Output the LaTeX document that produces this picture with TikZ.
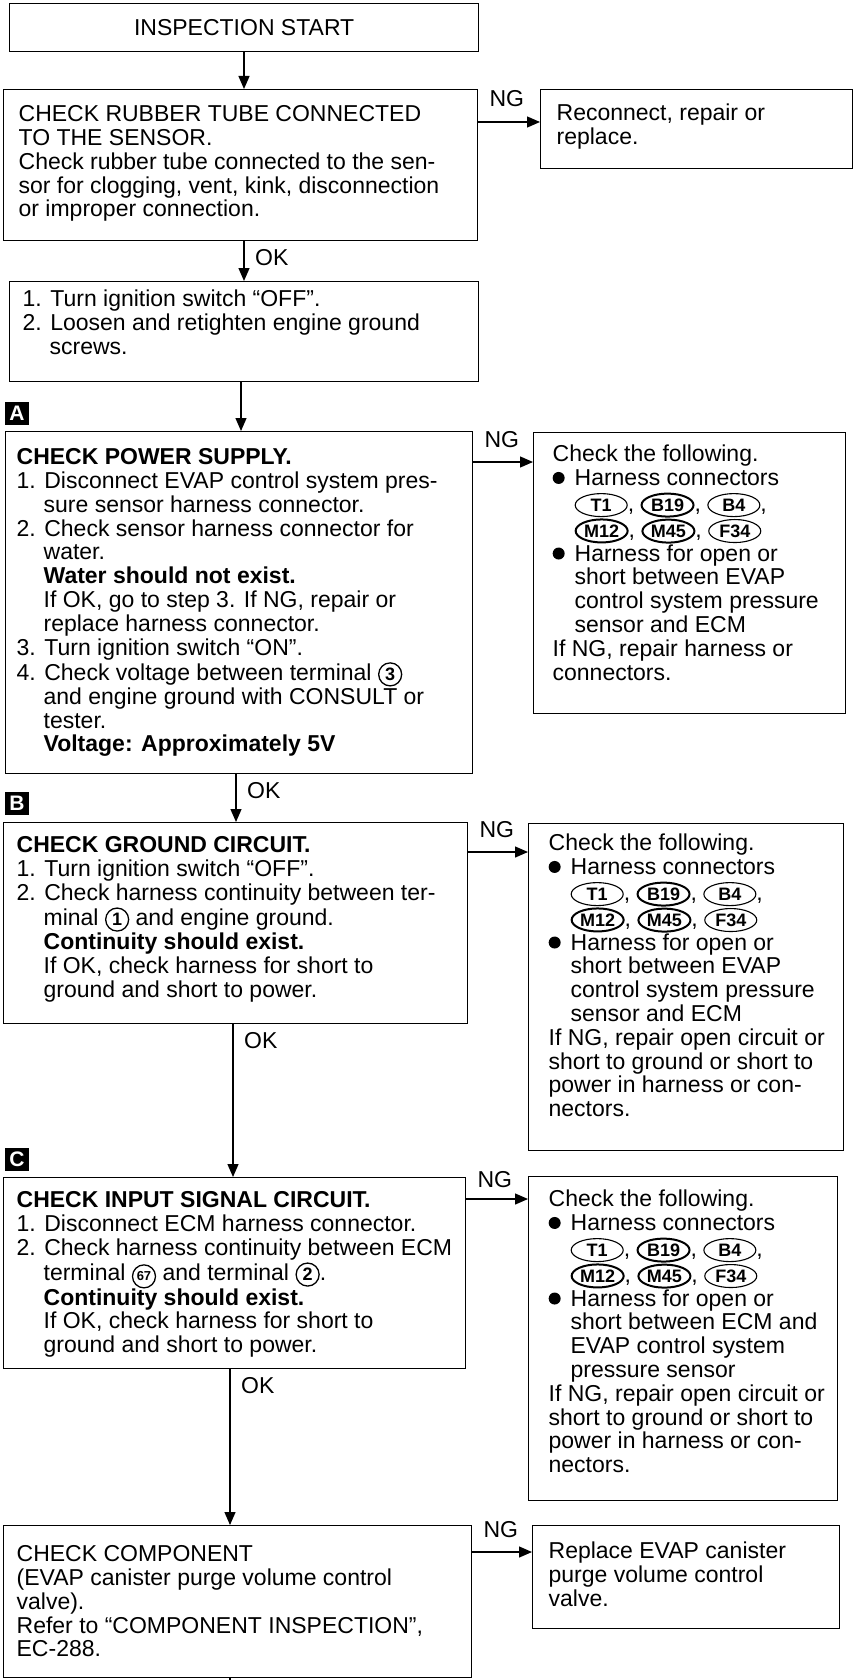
\documentclass[tikz,border=0pt]{standalone}
\usepackage{fontspec}
\setmainfont{Liberation Sans}
\usetikzlibrary{arrows.meta,shapes.geometric}

% W H first-baseline padx lines
\newcommand\boxtxt[5]{\begin{minipage}[c][#2pt][t]{#1pt}\vspace*{\dimexpr#3pt-0.7\baselineskip\relax}\noindent\hspace*{#4pt}\begin{tabular}[t]{@{}l@{}}#5\end{tabular}\end{minipage}}
\newcommand\indt{\hspace*{27pt}}
\newcommand\cindt{\hspace*{22pt}}
\newcommand\circn[1]{\tikz[baseline=(cn.base)]\node[circle,draw,line width=1.3pt,inner sep=0pt,minimum size=23pt,font=\bfseries\fontsize{18}{18}\selectfont](cn){#1};}
\newcommand\circnn[1]{\tikz[baseline=(cn.base)]\node[circle,draw,line width=1.3pt,inner sep=0pt,minimum size=23pt,font=\bfseries\fontsize{13}{13}\selectfont](cn){#1};}
\newcommand\cbox[1]{\tikz[baseline=(cb.base)]\node[ellipse,draw,line width=1.1pt,inner xsep=0pt,inner ysep=0pt,minimum height=23pt,minimum width=52pt,font=\bfseries\fontsize{18}{18}\selectfont](cb){#1};}
\newcommand\cboxb[1]{\tikz[baseline=(cb.base)]\node[ellipse,draw,line width=2pt,inner xsep=0pt,inner ysep=0pt,minimum height=23pt,minimum width=52pt,font=\bfseries\fontsize{18}{18}\selectfont](cb){#1};}
\newcommand\bulit{\tikz[baseline=0pt]\fill (6pt,7.5pt) circle (6pt);\hspace{10pt}}

\begin{document}
\begin{tikzpicture}[x=1pt,y=-1pt,
  bxs/.style={draw,line width=1.3pt,inner sep=0pt,anchor=north west,font=\fontsize{23}{23.8}\selectfont},
  lbl/.style={inner sep=0pt,font=\fontsize{23}{23.8}\selectfont},
  secmark/.style={fill=black,text=white,inner sep=0pt,minimum width=24pt,minimum height=23pt,font=\bfseries\fontsize{21}{21}\selectfont},
  arr/.style={line width=1.3pt,-{Triangle[length=13pt,width=11pt]}},
  ln/.style={line width=1.3pt}]
\fill[white] (0,0) rectangle (857,1680);
\useasboundingbox (0,0) rectangle (857,1680);

% left column
\node[bxs,minimum width=469pt,minimum height=48pt] (start) at (9,3) {INSPECTION START};

\node[bxs] (B2) at (3,89) {\boxtxt{474}{151}{32}{15}{%
CHECK RUBBER TUBE CONNECTED\\
TO THE SENSOR.\\
Check rubber tube connected to the sen-\\
sor for clogging, vent, kink, disconnection\\
or improper connection.}};

\node[bxs] (B3) at (9,281) {\boxtxt{469}{100}{25}{13}{%
1. Turn ignition switch “OFF”.\\
2. Loosen and retighten engine ground\\
\indt screws.}};

\node[bxs] (A) at (5,431) {\boxtxt{467}{342}{33}{11}{%
\textbf{CHECK POWER SUPPLY.}\\
1. Disconnect EVAP control system pres-\\
\indt sure sensor harness connector.\\
2. Check sensor harness connector for\\
\indt water.\\
\indt\textbf{Water should not exist.}\\
\indt If OK, go to step 3. If NG, repair or\\
\indt replace harness connector.\\
3. Turn ignition switch “ON”.\\
4. Check voltage between terminal \circn{3}\\
\indt and engine ground with CONSULT or\\
\indt tester.\\
\indt\textbf{Voltage: Approximately 5V}}};

\node[bxs] (B) at (3,822) {\boxtxt{464}{201}{30}{13}{%
\textbf{CHECK GROUND CIRCUIT.}\\
1. Turn ignition switch “OFF”.\\
2. Check harness continuity between ter-\\
\indt minal \circn{1} and engine ground.\\
\indt\textbf{Continuity should exist.}\\
\indt If OK, check harness for short to\\
\indt ground and short to power.}};

\node[bxs] (C) at (3,1177) {\boxtxt{462}{191}{30}{13}{%
\textbf{CHECK INPUT SIGNAL CIRCUIT.}\\
1. Disconnect ECM harness connector.\\
2. Check harness continuity between ECM\\
\indt terminal \circnn{67} and terminal \circn{2}.\\
\indt\textbf{Continuity should exist.}\\
\indt If OK, check harness for short to\\
\indt ground and short to power.}};

\node[bxs] (D) at (3,1525) {\boxtxt{468}{152}{36}{13}{%
CHECK COMPONENT\\
(EVAP canister purge volume control\\
valve).\\
Refer to “COMPONENT INSPECTION”,\\
EC-288.}};

% right column
\node[bxs] (R1) at (540,89) {\boxtxt{312}{79}{31}{16}{%
Reconnect, repair or\\
replace.}};

\node[bxs] (RA) at (533,432) {\boxtxt{312}{281}{29}{19}{%
Check the following.\\
\bulit Harness connectors\\
\cindt\cbox{T1}, \cboxb{B19}, \cbox{B4},\\
\cindt\cboxb{M12}, \cboxb{M45}, \cbox{F34}\\
\bulit Harness for open or\\
\cindt short between EVAP\\
\cindt control system pressure\\
\cindt sensor and ECM\\
If NG, repair harness or\\
connectors.}};

\node[bxs] (RB) at (528,823) {\boxtxt{315}{327}{27}{20}{%
Check the following.\\
\bulit Harness connectors\\
\cindt\cbox{T1}, \cboxb{B19}, \cbox{B4},\\
\cindt\cboxb{M12}, \cboxb{M45}, \cbox{F34}\\
\bulit Harness for open or\\
\cindt short between EVAP\\
\cindt control system pressure\\
\cindt sensor and ECM\\
If NG, repair open circuit or\\
short to ground or short to\\
power in harness or con-\\
nectors.}};

\node[bxs] (RC) at (528,1176) {\boxtxt{309}{324}{30}{20}{%
Check the following.\\
\bulit Harness connectors\\
\cindt\cbox{T1}, \cboxb{B19}, \cbox{B4},\\
\cindt\cboxb{M12}, \cboxb{M45}, \cbox{F34}\\
\bulit Harness for open or\\
\cindt short between ECM and\\
\cindt EVAP control system\\
\cindt pressure sensor\\
If NG, repair open circuit or\\
short to ground or short to\\
power in harness or con-\\
nectors.}};

\node[bxs] (RD) at (532,1525) {\boxtxt{307}{103}{33}{16}{%
Replace EVAP canister\\
purge volume control\\
valve.}};

% section markers
\node[secmark] (mA) at (17,413) {A};
\node[secmark] (mB) at (17,803.5) {B};
\node[secmark] (mC) at (17,1159.5) {C};

% connector coordinates
\coordinate (x1) at (244,0);
\coordinate (x2) at (241,0);
\coordinate (x3) at (236,0);
\coordinate (x4) at (233,0);
\coordinate (x5) at (230,0);
\coordinate (bot) at (230,1680);
\coordinate (y1) at (0,122);
\coordinate (yA) at (0,462);
\coordinate (yB) at (0,852);
\coordinate (yC) at (0,1199);
\coordinate (yD) at (0,1552);

% vertical flow
\draw[arr] (start.south -| x1) -- (B2.north -| x1);
\draw[arr] (B2.south -| x1) -- (B3.north -| x1);
\draw[arr] (B3.south -| x2) -- (A.north -| x2);
\draw[arr] (A.south -| x3) -- (B.north -| x3);
\draw[arr] (B.south -| x4) -- (C.north -| x4);
\draw[arr] (C.south -| x5) -- (D.north -| x5);
\draw[ln] (D.south -| x5) -- (bot);

\path (B2.south -| x1) ++(11,24) node[lbl,anchor=base west] (ok1) {OK};
\path (A.south -| x3) ++(11,24) node[lbl,anchor=base west] (ok2) {OK};
\path (B.south -| x4) ++(11,24) node[lbl,anchor=base west] (ok3) {OK};
\path (C.south -| x5) ++(11,24) node[lbl,anchor=base west] (ok4) {OK};

% NG branches
\draw[arr] (B2.east |- y1) -- (R1.west |- y1);
\draw[arr] (A.east |- yA) -- (RA.west |- yA);
\draw[arr] (B.east |- yB) -- (RB.west |- yB);
\draw[arr] (C.east |- yC) -- (RC.west |- yC);
\draw[arr] (D.east |- yD) -- (RD.west |- yD);

\path (B2.east |- y1) ++(11,-15) node[lbl,anchor=base west] (ng1) {NG};
\path (A.east |- yA) ++(11,-15) node[lbl,anchor=base west] (ng2) {NG};
\path (B.east |- yB) ++(11,-15) node[lbl,anchor=base west] (ng3) {NG};
\path (C.east |- yC) ++(11,-12) node[lbl,anchor=base west] (ng4) {NG};
\path (D.east |- yD) ++(11,-15) node[lbl,anchor=base west] (ng5) {NG};
\end{tikzpicture}
\end{document}
